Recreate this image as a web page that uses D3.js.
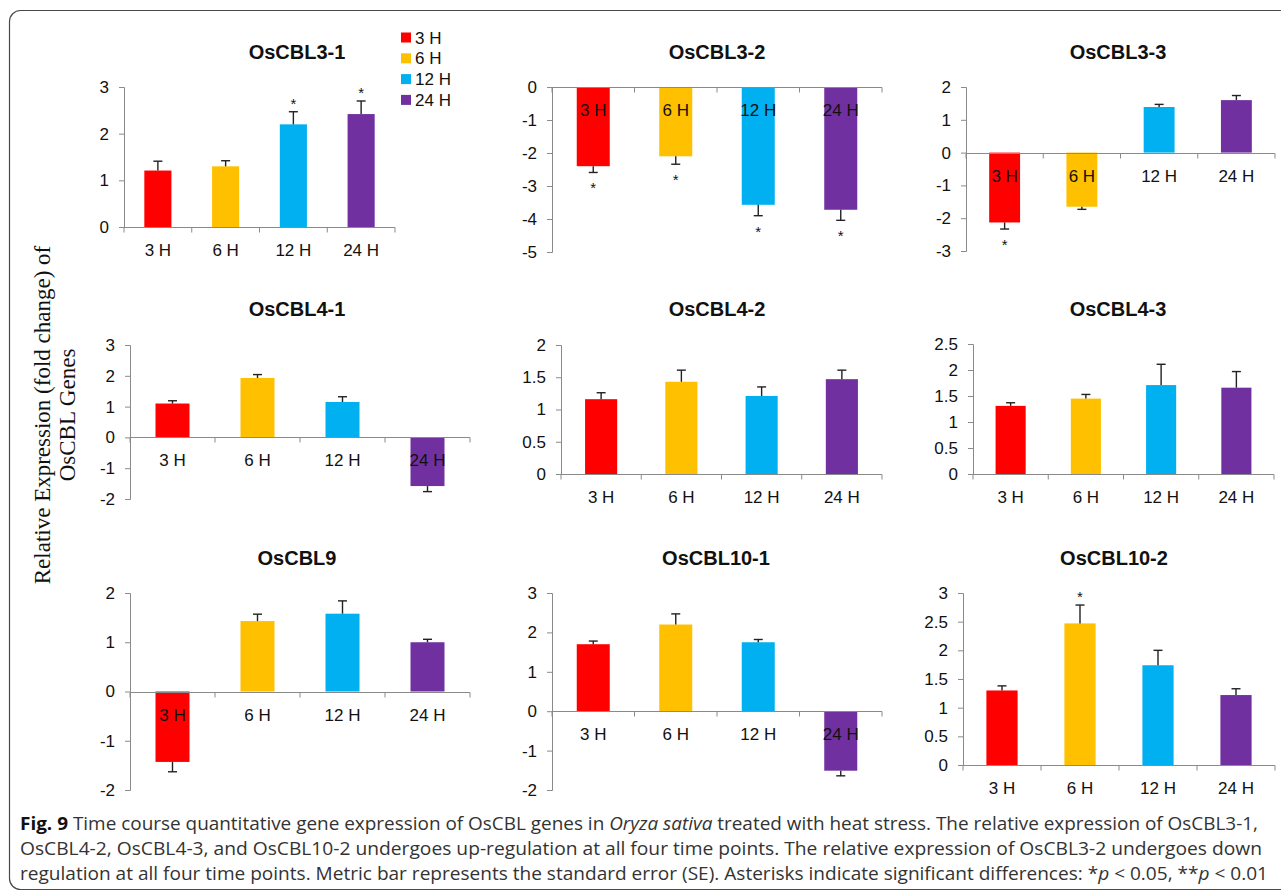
<!DOCTYPE html>
<html><head><meta charset="utf-8">
<script src="https://cdn.jsdelivr.net/npm/d3@7"></script>
<style>body{margin:0;background:#fff;} svg{display:block;}</style>
</head><body>
<svg id="c" width="1281" height="895"></svg>
<script>
// ---------- DATA ----------
const categories = ["3 H", "6 H", "12 H", "24 H"];
const seriesColors = ["#FF0000", "#FFC000", "#00B0F0", "#7030A0"];
const genes = ["OsCBL3-1", "OsCBL3-2", "OsCBL3-3", "OsCBL4-1", "OsCBL4-2", "OsCBL4-3", "OsCBL9", "OsCBL10-1", "OsCBL10-2"];

const values_OsCBL3_1 = [1.21, 1.30, 2.20, 2.42];
const errors_OsCBL3_1 = [0.20, 0.12, 0.27, 0.28];
const sig_OsCBL3_1 = ["", "", "*", "*"];
const ticks_OsCBL3_1 = ["0", "1", "2", "3"];

const values_OsCBL3_2 = [-2.40, -2.10, -3.57, -3.72];
const errors_OsCBL3_2 = [0.19, 0.24, 0.33, 0.32];
const sig_OsCBL3_2 = ["*", "*", "*", "*"];
const ticks_OsCBL3_2 = ["-5", "-4", "-3", "-2", "-1", "0"];

const values_OsCBL3_3 = [-2.13, -1.65, 1.39, 1.60];
const errors_OsCBL3_3 = [0.20, 0.08, 0.08, 0.14];
const sig_OsCBL3_3 = ["*", "", "", ""];
const ticks_OsCBL3_3 = ["-3", "-2", "-1", "0", "1", "2"];

const values_OsCBL4_1 = [1.10, 1.93, 1.15, -1.58];
const errors_OsCBL4_1 = [0.09, 0.11, 0.17, 0.18];
const sig_OsCBL4_1 = ["", "", "", ""];
const ticks_OsCBL4_1 = ["-2", "-1", "0", "1", "2", "3"];

const values_OsCBL4_2 = [1.16, 1.43, 1.21, 1.47];
const errors_OsCBL4_2 = [0.10, 0.18, 0.14, 0.14];
const sig_OsCBL4_2 = ["", "", "", ""];
const ticks_OsCBL4_2 = ["0", "0.5", "1", "1.5", "2"];

const values_OsCBL4_3 = [1.31, 1.45, 1.71, 1.66];
const errors_OsCBL4_3 = [0.06, 0.08, 0.40, 0.31];
const sig_OsCBL4_3 = ["", "", "", ""];
const ticks_OsCBL4_3 = ["0", "0.5", "1", "1.5", "2", "2.5"];

const values_OsCBL9 = [-1.43, 1.43, 1.58, 1.00];
const errors_OsCBL9 = [0.20, 0.14, 0.26, 0.06];
const sig_OsCBL9 = ["", "", "", ""];
const ticks_OsCBL9 = ["-2", "-1", "0", "1", "2"];

const values_OsCBL10_1 = [1.70, 2.20, 1.75, -1.51];
const errors_OsCBL10_1 = [0.08, 0.27, 0.07, 0.13];
const sig_OsCBL10_1 = ["", "", "", ""];
const ticks_OsCBL10_1 = ["-2", "-1", "0", "1", "2", "3"];

const values_OsCBL10_2 = [1.30, 2.47, 1.74, 1.22];
const errors_OsCBL10_2 = [0.08, 0.32, 0.26, 0.11];
const sig_OsCBL10_2 = ["", "*", "", ""];
const ticks_OsCBL10_2 = ["0", "0.5", "1", "1.5", "2", "2.5", "3"];

const yAxisTitle = ["Relative Expression (fold change) of", "OsCBL Genes"];

// ---------- BUILD ----------
const panelData = [
  [values_OsCBL3_1, errors_OsCBL3_1, sig_OsCBL3_1, ticks_OsCBL3_1],
  [values_OsCBL3_2, errors_OsCBL3_2, sig_OsCBL3_2, ticks_OsCBL3_2],
  [values_OsCBL3_3, errors_OsCBL3_3, sig_OsCBL3_3, ticks_OsCBL3_3],
  [values_OsCBL4_1, errors_OsCBL4_1, sig_OsCBL4_1, ticks_OsCBL4_1],
  [values_OsCBL4_2, errors_OsCBL4_2, sig_OsCBL4_2, ticks_OsCBL4_2],
  [values_OsCBL4_3, errors_OsCBL4_3, sig_OsCBL4_3, ticks_OsCBL4_3],
  [values_OsCBL9, errors_OsCBL9, sig_OsCBL9, ticks_OsCBL9],
  [values_OsCBL10_1, errors_OsCBL10_1, sig_OsCBL10_1, ticks_OsCBL10_1],
  [values_OsCBL10_2, errors_OsCBL10_2, sig_OsCBL10_2, ticks_OsCBL10_2]
];

// layout (plot area pixel boxes)
const layout = [
  {x0: 124, x1: 395, yTop: 87, yBot: 227, tx: 297, ty: 59},
  {x0: 552, x1: 882, yTop: 87, yBot: 252, tx: 717, ty: 59},
  {x0: 966, x1: 1275, yTop: 87, yBot: 251, tx: 1118, ty: 59},
  {x0: 130, x1: 470, yTop: 345, yBot: 499, tx: 297, ty: 316},
  {x0: 561, x1: 882, yTop: 345, yBot: 474, tx: 717, ty: 316},
  {x0: 973, x1: 1274, yTop: 344, yBot: 474, tx: 1118, ty: 316},
  {x0: 130, x1: 470, yTop: 593, yBot: 790, tx: 297, ty: 565},
  {x0: 552, x1: 882, yTop: 593, yBot: 790, tx: 716, ty: 565},
  {x0: 963, x1: 1275, yTop: 593, yBot: 765, tx: 1114, ty: 565}
];

const svg = d3.select("#c");
const FONT = "'Liberation Sans', Arial, Helvetica, sans-serif";
const AXIS = "#8a8a8a";

// frame
svg.append("rect").attr("x", 9.5).attr("y", 10.5).attr("width", 1300).attr("height", 879)
  .attr("rx", 11).attr("fill", "none").attr("stroke", "#4a4a4a").attr("stroke-width", 1.2);

genes.forEach((g, i) => {
  const [vals, errs, sig, tks] = panelData[i];
  const L = layout[i];
  const tickVals = tks.map(Number);
  const y = d3.scaleLinear().domain(d3.extent(tickVals)).range([L.yBot, L.yTop]);
  const x = d3.scaleBand().domain(categories).range([L.x0, L.x1]).paddingInner(0).paddingOuter(0);
  const bw = x.bandwidth() * 0.4;
  const gp = svg.append("g");

  // title
  gp.append("text").attr("x", L.tx).attr("y", L.ty).attr("text-anchor", "middle")
    .attr("font-family", FONT).attr("font-weight", "bold").attr("font-size", 20).attr("fill", "#111").text(g);

  // y axis
  const yAxis = d3.axisLeft(y).tickValues(tickVals).tickSize(5).tickPadding(10)
    .tickFormat((d, k) => tks[k]);
  const ya = gp.append("g").attr("transform", `translate(${L.x0},0)`).call(yAxis);
  ya.select(".domain").attr("stroke", AXIS);
  ya.selectAll(".tick line").attr("stroke", AXIS);
  ya.selectAll(".tick text").attr("font-family", FONT).attr("font-size", 17).attr("fill", "#111");

  // bars
  gp.selectAll("rect.bar").data(vals).enter().append("rect").attr("class", "bar")
    .attr("x", (d, k) => x(categories[k]) + (x.bandwidth() - bw) / 2)
    .attr("width", bw)
    .attr("y", d => Math.min(y(d), y(0)))
    .attr("height", d => Math.abs(y(d) - y(0)))
    .attr("fill", (d, k) => seriesColors[k]);

  // error bars (one-sided, away from zero)
  vals.forEach((v, k) => {
    const cx = x(categories[k]) + x.bandwidth() / 2;
    const end = v >= 0 ? v + errs[k] : v - errs[k];
    gp.append("line").attr("x1", cx).attr("x2", cx).attr("y1", y(v)).attr("y2", y(end))
      .attr("stroke", "#222").attr("stroke-width", 1.4);
    gp.append("line").attr("x1", cx - 4.5).attr("x2", cx + 4.5).attr("y1", y(end)).attr("y2", y(end))
      .attr("stroke", "#222").attr("stroke-width", 1.4);
    if (sig[k]) {
      const yy = v >= 0 ? y(end) - 11 : y(end) + 13;
      gp.append("text").attr("x", cx).attr("y", yy + 8).attr("text-anchor", "middle")
        .attr("font-family", FONT).attr("font-size", 15).attr("fill", "#111").text(sig[k]);
    }
  });

  // x axis (at zero) with ticks at category boundaries
  const y0 = Math.round(y(0)) + 0.5;
  gp.append("line").attr("x1", L.x0).attr("x2", L.x1).attr("y1", y0).attr("y2", y0)
    .attr("stroke", AXIS).attr("stroke-width", 1);
  const bounds = categories.map(c => x(c)).concat([L.x1]);
  gp.selectAll("line.xt").data(bounds).enter().append("line").attr("class", "xt")
    .attr("x1", d => d).attr("x2", d => d).attr("y1", y0).attr("y2", y0 + 5)
    .attr("stroke", AXIS);
  gp.selectAll("text.xl").data(categories).enter().append("text").attr("class", "xl")
    .attr("x", d => x(d) + x.bandwidth() / 2).attr("y", y0 + 28).attr("text-anchor", "middle")
    .attr("font-family", FONT).attr("font-size", 17).attr("fill", "#111").text(d => d);
});

// legend
const leg = svg.append("g");
categories.forEach((c, k) => {
  const cy = 37.5 + k * 20.8;
  leg.append("rect").attr("x", 401).attr("y", cy - 5).attr("width", 10).attr("height", 10).attr("fill", seriesColors[k]);
  leg.append("text").attr("x", 415).attr("y", cy + 6).attr("font-family", FONT).attr("font-size", 17)
    .attr("fill", "#111").text(c);
});

// rotated y title
const yt = svg.append("g").attr("transform", "translate(0,0)");
yAxisTitle.forEach((t, k) => {
  yt.append("text").attr("transform", `translate(${50 + k * 25},415) rotate(-90)`)
    .attr("text-anchor", "middle").attr("font-family", "'Liberation Serif', 'Times New Roman', serif")
    .attr("font-size", 23).attr("fill", "#111").text(t);
});

// caption
const CAP = "'Liberation Sans Narrow', 'Open Sans', sans-serif";
const capLines = [
  {y: 830, len: 1238, parts: [["Fig. 9", "b"], [" Time course quantitative gene expression of OsCBL genes in ", ""], ["Oryza sativa", "i"], [" treated with heat stress. The relative expression of OsCBL3-1,", ""]]},
  {y: 855, len: 1242, parts: [["OsCBL4-2, OsCBL4-3, and OsCBL10-2 undergoes up-regulation at all four time points. The relative expression of OsCBL3-2 undergoes down", ""]]},
  {y: 880, len: 1248, parts: [["regulation at all four time points. Metric bar represents the standard error (SE). Asterisks indicate significant differences: *", ""], ["p", "i"], [" < 0.05, **", ""], ["p", "i"], [" < 0.01", ""]]}
];
capLines.forEach(line => {
  const t = svg.append("text").attr("x", 20).attr("y", line.y).attr("font-family", CAP).attr("font-size", 18)
    .attr("fill", "#333").attr("textLength", line.len).attr("lengthAdjust", "spacingAndGlyphs");
  line.parts.forEach(([s, st]) => {
    const ts = t.append("tspan").text(s);
    if (st === "b") ts.attr("font-weight", "bold").attr("fill", "#111");
    if (st === "i") ts.attr("font-style", "italic");
  });
});
</script>
</body></html>
